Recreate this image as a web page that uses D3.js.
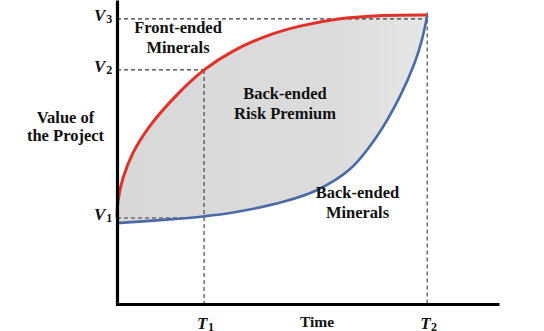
<!DOCTYPE html>
<html>
<head>
<meta charset="utf-8">
<script src="https://cdn.jsdelivr.net/npm/d3@7"></script>
<style>
  html, body { margin: 0; padding: 0; background: #fff; }
  svg { display: block; }
</style>
</head>
<body>
<svg id="chart" width="544" height="331"></svg>
<script>
// ---- data (time in % of axis, value in % of axis) ----
const timeMarkNames = ["T", "T"];
const timeMarkSubs = ["1", "2"];
const timeMarks = [22.8, 81.2];

const valueMarkNames = ["V", "V", "V"];
const valueMarkSubs = ["1", "2", "3"];
const valueMarks = [28.3, 77.0, 93.8];

// Front-ended minerals (red) curve
const redTime  = [0, 0.26, 1.57, 4.19, 8.64, 15.7, 22.8, 30.4, 39.3, 47.9, 58.4, 69.6, 81.2];
const redValue = [28.6, 33.9, 41.4, 49.7, 58.6, 68.8, 77.0, 83.2, 88.2, 91.4, 93.8, 94.9, 95.1];

// Back-ended minerals (blue) curve
const blueTime  = [0, 11.3, 22.5, 30.4, 43.5, 52.4, 61.0, 68.1, 74.1, 78.0, 79.8, 81.2];
const blueValue = [26.6, 27.6, 28.8, 30.1, 33.6, 37.5, 44.4, 55.3, 68.4, 79.6, 86.8, 94.7];

const regionLabels = [
  ["Front-ended", "Minerals"],
  ["Back-ended", "Risk Premium"],
  ["Back-ended", "Minerals"]
];
const yTitle = ["Value of", "the Project"];
const xTitle = "Time";

// ---- drawing ----
const svg = d3.select("#chart");
const x = d3.scaleLinear().domain([0, 100]).range([117, 499]);
const y = d3.scaleLinear().domain([0, 100]).range([304, 0]);

const red = redTime.map((t, i) => [t, redValue[i]]);
const blue = blueTime.map((t, i) => [t, blueValue[i]]);

const curve = d3.curveCatmullRom.alpha(0.5);

const defs = svg.append("defs");
const grad = defs.append("linearGradient").attr("id", "fillGrad")
  .attr("x1", "0").attr("x2", "1").attr("y1", "0").attr("y2", "0");
grad.append("stop").attr("offset", "0").attr("stop-color", "#d8d8d8");
grad.append("stop").attr("offset", "0.7").attr("stop-color", "#dcdcdc");
grad.append("stop").attr("offset", "1").attr("stop-color", "#e6e6e6");

// clip: region above the blue curve
defs.append("clipPath").attr("id", "aboveBlue")
  .append("path")
  .attr("d", d3.area().curve(curve)
    .x(d => x(d[0])).y0(y(110)).y1(d => y(d[1]))(blue));

// grey region between the curves
svg.append("path")
  .attr("clip-path", "url(#aboveBlue)")
  .attr("fill", "url(#fillGrad)")
  .attr("d", d3.area().curve(curve)
    .x(d => x(d[0])).y0(y(0)).y1(d => y(d[1]))(red));

// dashed guides
const dash = svg.append("g")
  .attr("stroke", "#3a3a3a").attr("stroke-width", 1.1)
  .attr("stroke-dasharray", "4,3").attr("fill", "none");

// V1 guide ends where the blue curve reaches V1
function blueTimeAt(v) {
  for (let i = 1; i < blue.length; i++) {
    if (blue[i][1] >= v) {
      const a = blue[i - 1], b = blue[i];
      return a[0] + (v - a[1]) / (b[1] - a[1]) * (b[0] - a[0]);
    }
  }
  return blue[blue.length - 1][0];
}
const vEnds = [blueTimeAt(valueMarks[0]), timeMarks[0], timeMarks[1]];
valueMarks.forEach((v, i) => {
  dash.append("line")
    .attr("x1", x(0)).attr("x2", x(vEnds[i]))
    .attr("y1", y(v)).attr("y2", y(v));
});
const tTops = [valueMarks[1], d3.max(redValue) + 0.8];
timeMarks.forEach((t, i) => {
  dash.append("line")
    .attr("x1", x(t)).attr("x2", x(t))
    .attr("y1", y(tTops[i])).attr("y2", y(0));
});

// curves
svg.append("path")
  .attr("fill", "none").attr("stroke", "#4a6aa6").attr("stroke-width", 2.6)
  .attr("d", d3.line().curve(curve).x(d => x(d[0])).y(d => y(d[1]))(blue));
svg.append("path")
  .attr("fill", "none").attr("stroke", "#e2302a").attr("stroke-width", 3)
  .attr("d", d3.line().curve(curve).x(d => x(d[0])).y(d => y(d[1]))(red));

// axes
const yAxis = d3.axisLeft(d3.scaleLinear().domain([0, 1]).range([y(0) + 1.5, 0]))
  .tickValues([]).tickSizeOuter(0);
const xAxis = d3.axisBottom(d3.scaleLinear().domain([0, 1]).range([x(0) - 1.5, 499]))
  .tickValues([]).tickSizeOuter(0);
svg.append("g").attr("transform", `translate(${x(0)},0)`).call(yAxis)
  .select(".domain").attr("stroke", "#000").attr("stroke-width", 3.2);
svg.append("g").attr("transform", `translate(0,${y(0)})`).call(xAxis)
  .select(".domain").attr("stroke", "#000").attr("stroke-width", 3);

const serif = "'Liberation Serif', 'Times New Roman', serif";

// value labels
valueMarks.forEach((v, i) => {
  const t = svg.append("text")
    .attr("x", 94).attr("y", y(v) + 2)
    .attr("font-family", serif).attr("font-weight", "bold")
    .attr("fill", "#111");
  t.append("tspan").attr("font-style", "italic").attr("font-size", 17).text(valueMarkNames[i]);
  t.append("tspan").attr("font-size", 12).attr("dx", 1).attr("dy", 2).text(valueMarkSubs[i]);
});

// time labels
timeMarks.forEach((tm, i) => {
  const t = svg.append("text")
    .attr("x", x(tm) - 7).attr("y", 329)
    .attr("font-family", serif).attr("font-weight", "bold")
    .attr("fill", "#111");
  t.append("tspan").attr("font-style", "italic").attr("font-size", 17).text(timeMarkNames[i]);
  t.append("tspan").attr("font-size", 12).attr("dx", 0.5).attr("dy", 2).text(timeMarkSubs[i]);
});

// region labels
const regionPos = [[178, 33], [285, 99], [357.5, 198]];
regionLabels.forEach((lines, i) => {
  lines.forEach((s, j) => {
    svg.append("text")
      .attr("x", regionPos[i][0]).attr("y", regionPos[i][1] + j * 19.5)
      .attr("text-anchor", "middle")
      .attr("font-family", serif).attr("font-weight", "bold").attr("font-size", 16.5)
      .attr("fill", "#111").text(s);
  });
});

// axis titles
yTitle.forEach((s, j) => {
  svg.append("text")
    .attr("x", 65.5).attr("y", 123 + j * 18)
    .attr("text-anchor", "middle")
    .attr("font-family", serif).attr("font-weight", "bold").attr("font-size", 16.5)
    .attr("fill", "#111").text(s);
});
svg.append("text")
  .attr("x", 317).attr("y", 327)
  .attr("text-anchor", "middle")
  .attr("font-family", serif).attr("font-weight", "bold").attr("font-size", 15.5)
  .attr("fill", "#111").text(xTitle);
</script>
</body>
</html>
